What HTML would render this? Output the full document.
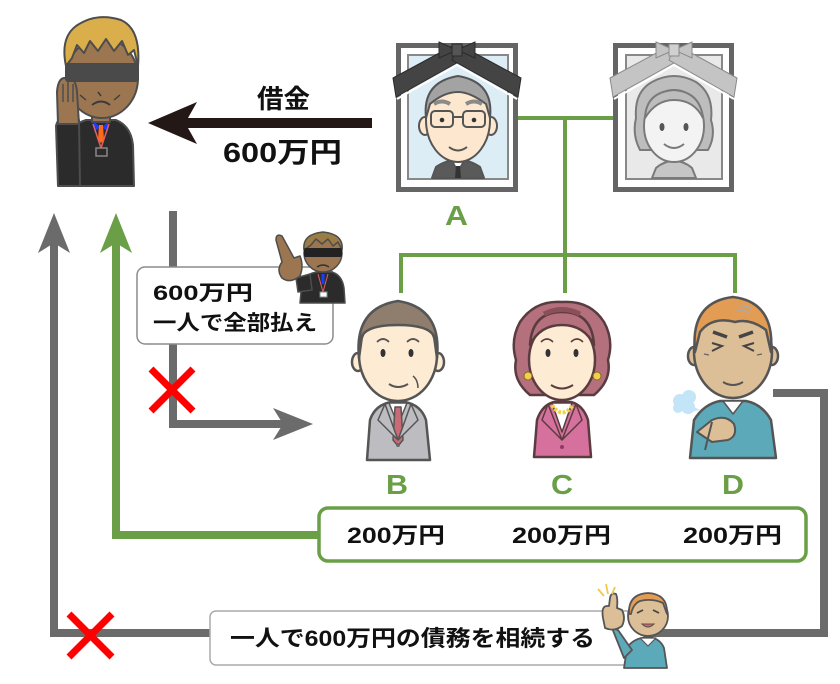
<!DOCTYPE html>
<html><head><meta charset="utf-8"><style>
html,body{margin:0;padding:0;background:#fff;}
svg{display:block;}
text{font-family:"Liberation Sans","Noto Sans CJK JP",sans-serif;font-weight:bold;}
</style></head><body>
<svg width="840" height="684" viewBox="0 0 840 684" xmlns="http://www.w3.org/2000/svg">
<rect width="840" height="684" fill="#fff"/>

<!-- ===== connectors (gray) ===== -->
<g fill="none" stroke="#6b6b6b" stroke-width="8" stroke-linejoin="miter">
  <polyline points="773,393 824,393 824,633 54,633 54,240"/>
  <polyline points="173,211 173,424 288,424"/>
</g>
<polygon points="54,213 70,253 54,243 38,253" fill="#6b6b6b"/>
<polygon points="313,424 273,408 283,424 273,440" fill="#6b6b6b"/>

<!-- green connector -->
<polyline points="318,535 116,535 116,240" fill="none" stroke="#6a9f47" stroke-width="8"/>
<polygon points="116,213 132,253 116,243 100,253" fill="#6a9f47"/>

<!-- family tree green lines -->
<g stroke="#6a9f47" stroke-width="4" fill="none">
  <line x1="518" y1="118" x2="613" y2="118"/>
  <line x1="565" y1="118" x2="565" y2="293"/>
  <polyline points="401,293 401,255 735,255 735,293"/>
</g>

<!-- black arrow -->
<path d="M148,123 L197,102 L188,118 L372,118 L372,128 L188,128 L197,144 Z" fill="#231815"/>
<text x="257" y="108" font-size="26" textLength="53" lengthAdjust="spacingAndGlyphs" fill="#111">借金</text>
<text x="223" y="162" font-size="28" textLength="119" lengthAdjust="spacingAndGlyphs" fill="#111">600万円</text>

<!-- ===== top-left bodyguard ===== -->
<g stroke="#4d4d4d" stroke-width="2" stroke-linejoin="round">
  <path d="M62,186 L64,145 Q67,126 86,120 L116,120 Q131,126 133,145 L134,186 Z" fill="#2b2b2b"/>
  <rect x="92" y="108" width="18" height="14" fill="#9c7650"/>
  <ellipse cx="102" cy="78" rx="36" ry="40" fill="#9c7650"/>
  <path d="M66,66 Q60,38 76,26 Q96,12 121,20 Q141,29 138,66 L134,50 L128,55 L122,41 L114,51 L106,39 L98,51 L90,41 L84,53 L77,45 L72,58 Z" fill="#d9ae4b"/>
  <path d="M58,186 L56,126 Q58,116 70,116 L79,120 L80,186 Z" fill="#2b2b2b"/>
  <path d="M58,124 L57,92 Q58,77 66,78 L70,78 Q76,80 77,92 L79,124 Z" fill="#9c7650"/>
  <line x1="63" y1="84" x2="63" y2="102" stroke-width="1.5"/>
  <line x1="68" y1="82" x2="68" y2="102" stroke-width="1.5"/>
  <line x1="73" y1="84" x2="73" y2="102" stroke-width="1.5"/>
</g>
<rect x="65" y="63" width="74" height="19" rx="3" fill="#4a4a4a"/>
<path d="M92,105 Q101,98 110,105" fill="none" stroke="#3a3a3a" stroke-width="2"/>
<path d="M98,92 L101,96" stroke="#3a3a3a" stroke-width="1.5"/>
<path d="M80,95 L86,100 M120,95 L114,100" stroke="#3a3a3a" stroke-width="1.2"/>
<polygon points="94,122 100,127 94,132" fill="#1a3cff"/>
<polygon points="108,122 102,127 108,132" fill="#1a3cff"/>
<polygon points="99,125 103,125 104,140 101,143 98,140" fill="#ff6a1a"/>
<path d="M93,124 L101,148 L109,124" fill="none" stroke="#e06060" stroke-width="1.5"/>
<rect x="96" y="148" width="11" height="8" fill="#2b2b2b" stroke="#888" stroke-width="1.5"/>

<!-- ===== Portrait A ===== -->
<rect x="396" y="43" width="122" height="149" fill="#656565"/>
<rect x="401" y="48" width="112" height="139" fill="#fff"/>
<rect x="408" y="55" width="100" height="124" fill="#dcedf5" stroke="#888" stroke-width="2"/>
<g stroke="#555" stroke-width="2" stroke-linejoin="round">
  <path d="M432,178 L436,167 Q446,160 458,160 Q470,160 480,167 L484,178 Z" fill="#5a5a5a"/>
  <path d="M452,161 L458,172 L464,161 Z" fill="#fff"/>
  <path d="M456,166 L460,166 L461,178 L455,178 Z" fill="#333" stroke="none"/>
  <ellipse cx="425" cy="126" rx="6" ry="9" fill="#fde8cf"/>
  <ellipse cx="491" cy="126" rx="6" ry="9" fill="#fde8cf"/>
  <ellipse cx="458" cy="120" rx="32" ry="42" fill="#fde8cf"/>
  <path d="M426,118 Q422,82 458,76 Q494,82 490,118 L486,104 Q470,92 458,92 Q444,92 430,104 Z" fill="#a3a3a3"/>
  <rect x="431" y="111" width="22" height="16" rx="4" fill="none"/>
  <rect x="463" y="111" width="22" height="16" rx="4" fill="none"/>
  <line x1="453" y1="117" x2="463" y2="117"/>
  <path d="M449,147 Q458,154 467,147" fill="none"/>
</g>
<path d="M434,104 Q442,99 450,104 M466,104 Q474,99 482,104" fill="none" stroke="#8a8a8a" stroke-width="4"/>
<circle cx="442" cy="120" r="2.3" fill="#333"/><circle cx="474" cy="120" r="2.3" fill="#333"/>
<!-- ribbon A -->
<g stroke="#2b2b2b" stroke-width="1">
  <polygon points="393,78 456,44 462,60 396,97" fill="#444"/>
  <polygon points="521,78 458,44 452,60 518,97" fill="#444"/>
  <polygon points="439,42 457,50 439,58" fill="#444"/>
  <polygon points="475,42 457,50 475,58" fill="#444"/>
  <rect x="452" y="44" width="10" height="12" fill="#555"/>
</g>
<path d="M397,99 L457,65 L517,99" fill="none" stroke="#fff" stroke-width="2"/>

<!-- ===== Portrait woman (grayscale) ===== -->
<rect x="613" y="43" width="121" height="149" fill="#656565"/>
<rect x="618" y="48" width="111" height="139" fill="#fff"/>
<rect x="626" y="55" width="96" height="124" fill="#e9e9e9" stroke="#888" stroke-width="2"/>
<g stroke="#7a7a7a" stroke-width="2" stroke-linejoin="round">
  <path d="M652,178 L656,168 Q664,161 674,161 Q684,161 692,168 L696,178 Z" fill="#c6c6c6"/>
  <path d="M640,150 Q632,135 636,118 Q634,92 652,82 Q674,70 696,82 Q714,94 711,120 Q716,136 708,150 Z" fill="#bdbdbd"/>
  <ellipse cx="674" cy="126" rx="30" ry="36" fill="#f3f3f3"/>
  <path d="M645,118 Q646,92 674,90 Q700,92 703,118 Q694,100 674,100 Q656,100 645,118 Z" fill="#bdbdbd"/>
  <path d="M664,144 Q674,152 684,144" fill="none"/>
</g>
<ellipse cx="662" cy="127" rx="2.5" ry="4" fill="#555"/><ellipse cx="686" cy="127" rx="2.5" ry="4" fill="#555"/>
<g stroke="#8a8a8a" stroke-width="1">
  <polygon points="610,78 673,44 679,60 613,97" fill="#c4c4c4"/>
  <polygon points="737,78 675,44 669,60 734,97" fill="#c4c4c4"/>
  <polygon points="656,42 674,50 656,58" fill="#c4c4c4"/>
  <polygon points="692,42 674,50 692,58" fill="#c4c4c4"/>
  <rect x="669" y="44" width="10" height="12" fill="#d0d0d0"/>
</g>
<path d="M614,99 L674,65 L734,99" fill="none" stroke="#fff" stroke-width="2"/>

<text x="445" y="225" font-size="28" textLength="23" lengthAdjust="spacingAndGlyphs" fill="#6a9f47">A</text>

<!-- ===== speech box ===== -->
<rect x="137" y="267" width="196" height="77" rx="8" fill="#fff" stroke="#8c8c8c" stroke-width="1.5"/>
<text x="153" y="300" font-size="21" textLength="100" lengthAdjust="spacingAndGlyphs" fill="#111">600万円</text>
<text x="153" y="330" font-size="21" textLength="164" lengthAdjust="spacingAndGlyphs" fill="#111">一人で全部払え</text>

<!-- small pointing bodyguard -->
<g stroke="#4d4d4d" stroke-width="1.5" stroke-linejoin="round">
  <path d="M300,303 L302,282 Q306,273 318,272 L332,272 Q342,275 344,288 L345,303 Z" fill="#2b2b2b"/>
  <path d="M296,278 L310,274 L312,290 L298,292 Z" fill="#2b2b2b"/>
  <circle cx="323" cy="253" r="19" fill="#9c7650"/>
  <path d="M304,250 Q302,234 323,232 Q344,234 342,250 L338,242 L333,246 L328,239 L322,244 L316,239 L311,245 Z" fill="#9a7d45"/>
  <path d="M276,240 Q276,233 282,236 L294,258 L300,256 Q304,266 300,276 Q290,284 282,278 Q276,270 282,262 Z" fill="#9c7650"/>
</g>
<rect x="304" y="248" width="38" height="9" rx="2" fill="#222"/>
<path d="M317,267 Q323,263 329,267" fill="none" stroke="#333" stroke-width="1.5"/>
<line x1="323" y1="274" x2="323" y2="284" stroke="#1a3cff" stroke-width="3"/>
<path d="M318,274 L323,292 L328,274" fill="none" stroke="#e06060" stroke-width="1"/>
<rect x="320" y="292" width="7" height="5" fill="#fff" stroke="#888" stroke-width="1"/>

<!-- red X's -->
<g stroke="#ff0000" stroke-width="7">
  <line x1="151" y1="369" x2="193" y2="411"/><line x1="193" y1="369" x2="151" y2="411"/>
  <line x1="69" y1="614" x2="112" y2="657"/><line x1="112" y1="614" x2="69" y2="657"/>
</g>

<!-- ===== B ===== -->
<g stroke="#555" stroke-width="2.5" stroke-linejoin="round">
  <path d="M367,460 L370,420 Q375,405 391,402 L405,402 Q421,405 426,420 L430,460 Z" fill="#bdbdc1"/>
  <path d="M389,403 L398,425 L407,403 Z" fill="#fff" stroke-width="1.5"/>
  <path d="M395,407 L401,407 L403,440 L398,446 L393,440 Z" fill="#c96b74" stroke-width="1.5"/>
  <path d="M385,404 L398,440 L378,420 Z M411,404 L398,440 L418,420 Z" fill="#bdbdc1" stroke-width="1.5"/>
  <ellipse cx="358" cy="362" rx="6" ry="9" fill="#fdebd3"/>
  <ellipse cx="438" cy="362" rx="6" ry="9" fill="#fdebd3"/>
  <ellipse cx="398" cy="355" rx="39" ry="46" fill="#fdebd3"/>
  <path d="M359,358 Q354,308 398,301 Q442,308 437,358 L434,336 Q428,325 398,325 Q368,325 362,336 Z" fill="#8f7d6d"/>
  <path d="M389,384 Q398,390 408,384" fill="none" stroke-width="2"/>
  <path d="M377,342 Q383,336 389,342 M407,342 Q413,336 419,342" fill="none" stroke-width="1.8"/>
  <path d="M413,376 Q418,380 418,388" fill="none" stroke-width="1.5"/>
</g>
<circle cx="398" cy="445" r="2" fill="#666"/>
<ellipse cx="383" cy="353" rx="2.5" ry="4" fill="#333"/><ellipse cx="411" cy="353" rx="2.5" ry="4" fill="#333"/>

<!-- ===== C ===== -->
<g stroke="#5a3c40" stroke-width="2.5" stroke-linejoin="round">
  <path d="M534,457 L537,420 Q542,405 554,402 L571,402 Q583,405 588,420 L591,457 Z" fill="#d6719e"/>
  <path d="M552,403 L562,432 L572,403 Z" fill="#fff" stroke-width="1.5"/>
  <path d="M548,404 L562,440 L542,420 Z M576,404 L562,440 L582,420 Z" fill="#d6719e" stroke-width="1.5"/>
  <path d="M530,395 Q512,380 516,360 Q510,340 520,322 Q535,300 562,302 Q590,300 604,322 Q614,340 608,360 Q612,380 594,395 Z" fill="#b4707c"/>
  <ellipse cx="562" cy="360" rx="33" ry="40" fill="#fdebd3"/>
  <path d="M530,345 Q532,312 562,312 Q592,312 594,345 Q584,325 562,325 Q540,325 530,345 Z" fill="#b4707c"/>
  <path d="M551,385 Q562,392 573,385" fill="none" stroke-width="2"/>
  <path d="M541,342 Q547,336 553,342 M571,342 Q577,336 583,342" fill="none" stroke-width="1.6"/>
</g>
<path d="M544,314 Q562,305 580,314" fill="none" stroke="#8a4f58" stroke-width="5"/>
<ellipse cx="548" cy="353" rx="2.5" ry="4" fill="#333"/><ellipse cx="576" cy="353" rx="2.5" ry="4" fill="#333"/>
<circle cx="528" cy="376" r="4" fill="#f0d24a" stroke="#8a6a20" stroke-width="1"/>
<circle cx="597" cy="376" r="4" fill="#f0d24a" stroke="#8a6a20" stroke-width="1"/>
<path d="M552,405 Q562,420 573,405" fill="none" stroke="#f0d24a" stroke-width="4" stroke-dasharray="3 1.5"/>
<circle cx="562" cy="447" r="2" fill="#8a3c60"/>

<!-- ===== D ===== -->
<g stroke="#555" stroke-width="2.5" stroke-linejoin="round">
  <path d="M690,458 L694,420 Q704,404 720,401 L746,401 Q762,404 771,420 L776,458 Z" fill="#5ca9ba"/>
  <path d="M723,401 L733,414 L743,401 Z" fill="#fff" stroke-width="1.5"/>
  <ellipse cx="694" cy="356" rx="6" ry="9" fill="#dcbf96"/>
  <ellipse cx="772" cy="356" rx="6" ry="9" fill="#dcbf96"/>
  <ellipse cx="733" cy="352" rx="39" ry="46" fill="#dcbf96"/>
  <path d="M695,352 Q690,302 733,297 Q775,302 771,352 L766,330 Q750,318 735,322 Q712,316 700,332 Z" fill="#e39c53"/>
  <path d="M697,432 L712,420 Q726,414 734,424 Q738,436 728,440 L712,442 Z" fill="#dcbf96" stroke-width="2"/>
  <path d="M705,450 L712,422" fill="none" stroke-width="2"/>
  <path d="M723,382 Q733,388 743,382" fill="none" stroke-width="2"/>
</g>
<path d="M713,332 L727,337 M753,332 L739,337" stroke="#444" stroke-width="3.5"/>
<path d="M712,351 L722,346 L712,343 M754,351 L744,346 L754,343" fill="none" stroke="#444" stroke-width="2"/>
<path d="M704,354 L709,355 M762,354 L757,355" stroke="#666" stroke-width="1.2"/>
<path d="M737,306 Q746,304 752,310 M737,311 Q744,309 750,314" fill="none" stroke="#aaa" stroke-width="1.5"/>
<g fill="#c3e5f7">
  <circle cx="680" cy="401" r="7"/><circle cx="689" cy="397" r="7"/><circle cx="688" cy="407" r="7"/><circle cx="678" cy="408" r="5"/>
  <polygon points="692,406 700,410 690,412"/>
</g>

<!-- letters B C D -->
<text x="386" y="494" font-size="28" textLength="22" lengthAdjust="spacingAndGlyphs" fill="#6a9f47">B</text>
<text x="551" y="494" font-size="28" textLength="22" lengthAdjust="spacingAndGlyphs" fill="#6a9f47">C</text>
<text x="722" y="494" font-size="28" textLength="22" lengthAdjust="spacingAndGlyphs" fill="#6a9f47">D</text>

<!-- green box -->
<rect x="319" y="508" width="487" height="53" rx="9" fill="#fff" stroke="#6a9f47" stroke-width="3.5"/>
<text x="347" y="543" font-size="22" textLength="98" lengthAdjust="spacingAndGlyphs" fill="#111">200万円</text>
<text x="512" y="543" font-size="22" textLength="99" lengthAdjust="spacingAndGlyphs" fill="#111">200万円</text>
<text x="683" y="543" font-size="22" textLength="99" lengthAdjust="spacingAndGlyphs" fill="#111">200万円</text>

<!-- bottom box -->
<rect x="210" y="611" width="440" height="54" rx="6" fill="#fff" stroke="#aaaaaa" stroke-width="1.5"/>
<text x="230" y="646" font-size="22" textLength="365" lengthAdjust="spacingAndGlyphs" fill="#111">一人で600万円の債務を相続する</text>

<!-- small D thumbs up -->
<g stroke="#555" stroke-width="1.8" stroke-linejoin="round">
  <path d="M624,668 L627,648 Q633,638 648,637 Q660,638 664,648 L667,668 Z" fill="#5ca9ba"/>
  <path d="M612,628 L618,630 L632,650 L624,658 Z" fill="#5ca9ba"/>
  <path d="M640,638 L648,646 L656,638 Z" fill="#fff" stroke-width="1.2"/>
  <circle cx="648" cy="616" r="20" fill="#dcbf96"/>
  <path d="M629,614 Q628,594 648,593 Q668,594 667,614 L663,603 Q652,598 640,601 Q633,604 631,614 Z" fill="#e39c53"/>
  <path d="M603,618 Q601,606 607,606 L609,606 L610,598 Q611,592 616,594 Q618,598 617,608 L622,610 Q626,618 622,626 Q614,632 605,628 Z" fill="#dcbf96"/>
</g>
<path d="M637,613 L643,610 M659,613 L653,610" stroke="#444" stroke-width="1.8"/>
<path d="M642,624 Q648,630 654,624 Z" fill="#e06060" stroke="#555" stroke-width="1"/>
<path d="M598,589 L604,596 M606,584 L608,594 M615,587 L612,594" stroke="#f2c84b" stroke-width="1.8"/>
</svg>
</body></html>
